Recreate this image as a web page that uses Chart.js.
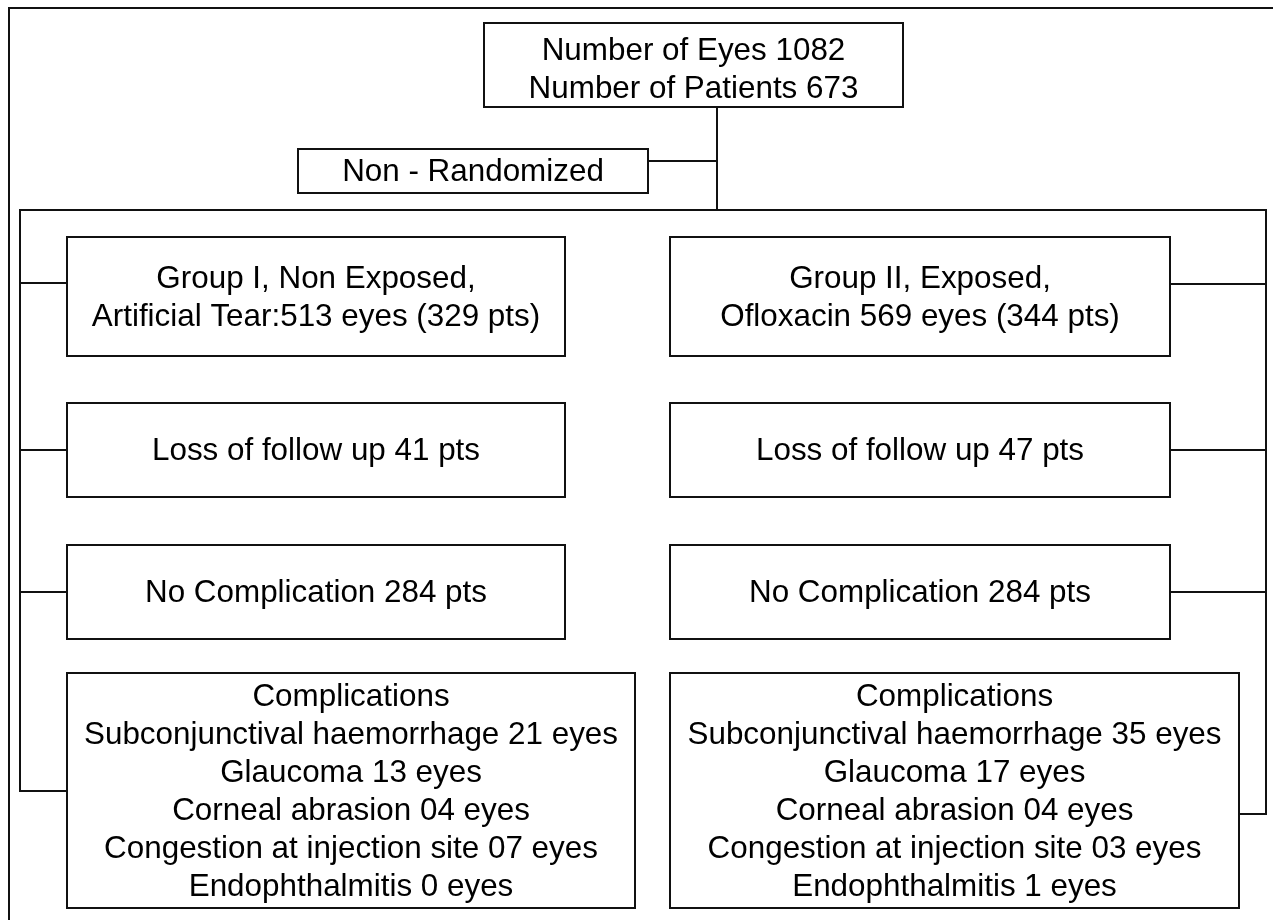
<!DOCTYPE html>
<html>
<head>
<meta charset="utf-8">
<title>Study flow</title>
<script src="https://cdn.jsdelivr.net/npm/chart.js@4.4.0/dist/chart.umd.min.js"></script>
<style>
    html, body { margin: 0; padding: 0; background: #fff; }
    canvas { display: block; }
</style>
</head>
<body>
<canvas id="flowChart" width="1273" height="920"></canvas>
<script>
// === Texts / values of the diagram ===
const totalLines = ['Number of Eyes 1082', 'Number of Patients 673'];
const allocationLabel = 'Non - Randomized';
const groupNames = ['Group I, Non Exposed,', 'Group II, Exposed,'];
const groupTreatments = ['Artificial Tear:513 eyes (329 pts)', 'Ofloxacin 569 eyes (344 pts)'];
const lossFollowUp = [41, 47];
const noComplication = [284, 284];
const complicationTypes = ['Subconjunctival haemorrhage', 'Glaucoma', 'Corneal abrasion', 'Congestion at injection site', 'Endophthalmitis'];
const complicationsGroupI = ['21', '13', '04', '07', '0'];
const complicationsGroupII = ['35', '17', '04', '03', '1'];

// === Layout (diagram units = pixels of the 1273x920 page) ===
const W = 1273, H = 920;
const colX = [[67, 565], [670, 1170]];
const compX = [[67, 635], [670, 1239]];
const rowY = { group: [237, 356], loss: [403, 497], none: [545, 639], comp: [673, 908] };
const topBox = { x0: 484, y0: 23, x1: 903, y1: 107, dy: 4 };
const allocBox = { x0: 298, y0: 149, x1: 648, y1: 193 };
const lineGap = 38;

const connectors = [
    [[9, H], [9, 8], [W, 8]],            // outer frame
    [[717, 107], [717, 210]],
    [[648, 161], [717, 161]],
    [[20, 210], [1266, 210]],
    [[20, 210], [20, 791]],
    [[1266, 210], [1266, 814]],
    [[20, 283], [67, 283]],
    [[20, 450], [67, 450]],
    [[20, 592], [67, 592]],
    [[20, 791], [67, 791]],
    [[1170, 284], [1266, 284]],
    [[1170, 450], [1266, 450]],
    [[1170, 592], [1266, 592]],
    [[1239, 814], [1266, 814]]
];

// === Boxes built from the texts ===
const boxes = [
    { ...topBox, lines: totalLines },
    { ...allocBox, lines: [allocationLabel] }
];
[0, 1].forEach(g => {
    const comps = g === 0 ? complicationsGroupI : complicationsGroupII;
    boxes.push({ x0: colX[g][0], x1: colX[g][1], y0: rowY.group[0], y1: rowY.group[1],
        lines: [groupNames[g], groupTreatments[g]] });
    boxes.push({ x0: colX[g][0], x1: colX[g][1], y0: rowY.loss[0], y1: rowY.loss[1],
        lines: [`Loss of follow up ${lossFollowUp[g]} pts`] });
    boxes.push({ x0: colX[g][0], x1: colX[g][1], y0: rowY.none[0], y1: rowY.none[1],
        lines: [`No Complication ${noComplication[g]} pts`] });
    boxes.push({ x0: compX[g][0], x1: compX[g][1], y0: rowY.comp[0], y1: rowY.comp[1],
        lines: ['Complications'].concat(complicationTypes.map((t, i) => `${t} ${comps[i]} eyes`)) });
});

const boxPlugin = {
    id: 'flowBoxes',
    afterDatasetsDraw(chart) {
        const { ctx, scales: { x, y } } = chart;
        ctx.save();
        ctx.lineWidth = 2;
        ctx.strokeStyle = '#111';
        ctx.fillStyle = '#000';
        ctx.font = '31.4px "Liberation Sans", Arial, sans-serif';
        ctx.textAlign = 'center';
        ctx.textBaseline = 'alphabetic';
        boxes.forEach(b => {
            const left = x.getPixelForValue(b.x0), right = x.getPixelForValue(b.x1);
            const top = y.getPixelForValue(b.y0), bottom = y.getPixelForValue(b.y1);
            ctx.strokeRect(left, top, right - left, bottom - top);
            const cx = (b.x0 + b.x1) / 2;
            const cy = (b.y0 + b.y1) / 2 + (b.dy || 0);
            const n = b.lines.length;
            b.lines.forEach((t, i) => {
                const ty = cy + 10 + (i - (n - 1) / 2) * lineGap;
                ctx.fillText(t, x.getPixelForValue(cx), y.getPixelForValue(ty));
            });
        });
        ctx.restore();
    }
};

const ctx = document.getElementById('flowChart').getContext('2d');
new Chart(ctx, {
    type: 'scatter',
    data: {
        datasets: connectors.map(seg => ({
            data: seg.map(p => ({ x: p[0], y: p[1] })),
            showLine: true,
            borderColor: '#111',
            borderWidth: 2,
            borderCapStyle: 'square',
            pointRadius: 0,
            fill: false,
            clip: false
        }))
    },
    options: {
        responsive: false,
        animation: false,
        events: [],
        layout: { padding: 0 },
        plugins: { legend: { display: false }, tooltip: { enabled: false } },
        scales: {
            x: { type: 'linear', min: 0, max: W, display: false },
            y: { type: 'linear', min: 0, max: H, reverse: true, display: false }
        }
    },
    plugins: [boxPlugin]
});
</script>
</body>
</html>
